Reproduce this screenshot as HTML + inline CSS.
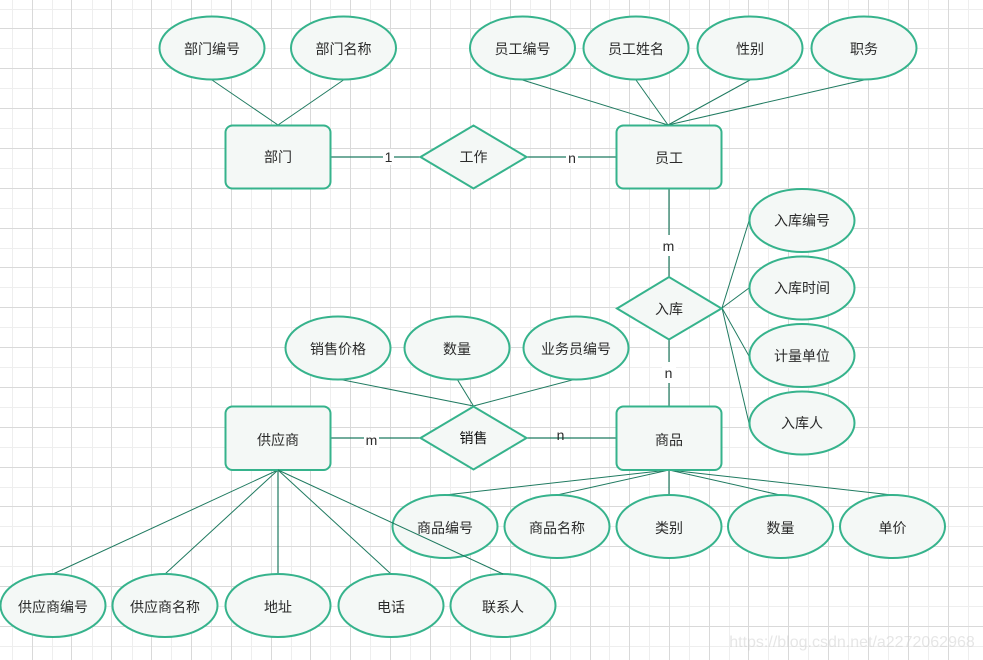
<!DOCTYPE html>
<html><head><meta charset="utf-8"><style>
html,body{margin:0;padding:0;background:#fff;width:983px;height:660px;overflow:hidden}
svg{display:block}
text{font-family:"Liberation Sans","Noto Sans CJK SC",sans-serif;font-size:14px;fill:#2b2b2b;text-anchor:middle}
.s ellipse,.s rect,.s polygon{fill:#f4f8f6;stroke:#36b38c;stroke-width:2}
.l line{stroke:#1f7a60;stroke-width:1}
.h line{stroke:#1f7a60;stroke-width:1.2}
</style></head><body>
<svg width="983" height="660" viewBox="0 0 983 660" xmlns="http://www.w3.org/2000/svg">
<rect width="983" height="660" fill="#fff"/>
<path fill="none" stroke="#eeeeee" stroke-width="1" shape-rendering="crispEdges" d="M12.5 0V660M52.5 0V660M92.5 0V660M132.5 0V660M171.5 0V660M211.5 0V660M251.5 0V660M291.5 0V660M330.5 0V660M370.500 0V660M410.5 0V660M450.5 0V660M490.5 0V660M530.5 0V660M570.5 0V660M609.5 0V660M649.5 0V660M689.5 0V660M729.5 0V660M768.5 0V660M808.5 0V660M848.5 0V660M888.5 0V660M928.5 0V660M968.5 0V660M0 9.5H983M0 48.5H983M0 88.5H983M0 128.5H983M0 168.5H983M0 208.5H983M0 248.5H983M0 287.5H983M0 327.5H983M0 367.5H983M0 407.5H983M0 447.5H983M0 487.5H983M0 526.5H983M0 566.5H983M0 606.5H983M0 646.5H983"/>
<path fill="none" stroke="#d9d9d9" stroke-width="1" shape-rendering="crispEdges" d="M32.5 0V660M71.5 0V660M111.5 0V660M151.5 0V660M191.5 0V660M231.5 0V660M271.5 0V660M310.5 0V660M350.5 0V660M390.5 0V660M430.5 0V660M470.5 0V660M510.5 0V660M550.5 0V660M590.5 0V660M629.5 0V660M669.5 0V660M709.5 0V660M748.5 0V660M788.5 0V660M828.5 0V660M868.5 0V660M908.5 0V660M948.5 0V660M0 28.5H983M0 68.5H983M0 108.5H983M0 148.5H983M0 188.5H983M0 228.5H983M0 267.5H983M0 307.5H983M0 347.5H983M0 387.5H983M0 427.5H983M0 467.5H983M0 506.5H983M0 546.5H983M0 586.5H983M0 626.5H983"/>

<g class="l">
<line x1="212" y1="80" x2="278" y2="125"/>
<line x1="343.500" y1="80" x2="278" y2="125"/>
<line x1="522.500" y1="80" x2="668" y2="125"/>
<line x1="636" y1="80" x2="668" y2="125"/>
<line x1="750" y1="80" x2="668" y2="125"/>
<line x1="864" y1="80" x2="668" y2="125"/>
<line x1="722" y1="308" x2="749" y2="221"/>
<line x1="722" y1="308" x2="749" y2="288"/>
<line x1="722" y1="308" x2="749" y2="356"/>
<line x1="722" y1="308" x2="749" y2="423"/>
<line x1="338" y1="379" x2="473.500" y2="406"/>
<line x1="457" y1="379" x2="473.500" y2="406"/>
<line x1="576" y1="379" x2="473.500" y2="406"/>
<line x1="669" y1="470" x2="445" y2="495"/>
<line x1="669" y1="470" x2="557" y2="495"/>
<line x1="669" y1="470" x2="780" y2="495"/>
<line x1="669" y1="470" x2="892" y2="495"/>
<line x1="278" y1="470" x2="53" y2="574"/>
<line x1="278" y1="470" x2="165" y2="574"/>
<line x1="278" y1="470" x2="391" y2="574"/>
</g>
<g class="h">
<line x1="331" y1="157" x2="420" y2="157"/>
<line x1="527" y1="157" x2="616" y2="157"/>
<line x1="669" y1="189" x2="669" y2="277"/>
<line x1="669" y1="340" x2="669" y2="406"/>
<line x1="331" y1="438" x2="420" y2="438"/>
<line x1="527" y1="438" x2="616" y2="438"/>
<line x1="669" y1="470" x2="669" y2="495"/>
<line x1="278" y1="470" x2="278" y2="574"/>
</g>

<g fill="#fff">
<rect x="383" y="149" width="11" height="16"/>
<rect x="566" y="150" width="12" height="16"/>
<rect x="660" y="235" width="18" height="21"/>
<rect x="662" y="362" width="14" height="21"/>
<rect x="364" y="432" width="15" height="16"/>
<rect x="555" y="428" width="11" height="9"/>
</g>

<g class="s">
<ellipse cx="212" cy="48" rx="52.500" ry="31.500"/>
<ellipse cx="343.500" cy="48" rx="52.500" ry="31.500"/>
<ellipse cx="522.500" cy="48" rx="52.500" ry="31.500"/>
<ellipse cx="636" cy="48" rx="52.500" ry="31.500"/>
<ellipse cx="750" cy="48" rx="52.500" ry="31.500"/>
<ellipse cx="864" cy="48" rx="52.500" ry="31.500"/>
<rect x="225.500" y="125.500" width="105" height="63" rx="7"/>
<rect x="616.500" y="125.500" width="105" height="63" rx="7"/>
<polygon points="420.500,157 473.500,125.500 526.500,157 473.500,188.500"/>
<polygon points="617,308.500 669,277 721.500,308.500 669,339.500"/>
<ellipse cx="802" cy="220.500" rx="52.500" ry="31.500"/>
<ellipse cx="802" cy="288" rx="52.500" ry="31.500"/>
<ellipse cx="802" cy="355.500" rx="52.500" ry="31.500"/>
<ellipse cx="802" cy="423" rx="52.500" ry="31.500"/>
<ellipse cx="338" cy="348" rx="52.500" ry="31.500"/>
<ellipse cx="457" cy="348" rx="52.500" ry="31.500"/>
<ellipse cx="576" cy="348" rx="52.500" ry="31.500"/>
<rect x="225.500" y="406.500" width="105" height="63.500" rx="7"/>
<rect x="616.500" y="406.500" width="105" height="63.500" rx="7"/>
<polygon points="420.500,438 473.500,406.500 526.500,438 473.500,469.500"/>
<ellipse cx="445" cy="526.500" rx="52.500" ry="31.500"/>
<ellipse cx="557" cy="526.500" rx="52.500" ry="31.500"/>
<ellipse cx="669" cy="526.500" rx="52.500" ry="31.500"/>
<ellipse cx="780.500" cy="526.500" rx="52.500" ry="31.500"/>
<ellipse cx="892.500" cy="526.500" rx="52.500" ry="31.500"/>
<ellipse cx="53" cy="605.500" rx="52.500" ry="31.500"/>
<ellipse cx="165" cy="605.500" rx="52.500" ry="31.500"/>
<ellipse cx="278" cy="605.500" rx="52.500" ry="31.500"/>
<ellipse cx="391" cy="605.500" rx="52.500" ry="31.500"/>
<ellipse cx="503" cy="605.500" rx="52.500" ry="31.500"/>
</g>
<line x1="278" y1="470" x2="503" y2="574" stroke="#1f7a60" stroke-width="1"/>

<g>
<text x="212" y="54">部门编号</text>
<text x="343.500" y="54">部门名称</text>
<text x="522.500" y="54">员工编号</text>
<text x="636" y="54">员工姓名</text>
<text x="750" y="54">性别</text>
<text x="864" y="54">职务</text>
<text x="278" y="162">部门</text>
<text x="473.500" y="162">工作</text>
<text x="669" y="163">员工</text>
<text x="802" y="225.500">入库编号</text>
<text x="802" y="293">入库时间</text>
<text x="802" y="361">计量单位</text>
<text x="802" y="428">入库人</text>
<text x="669" y="314">入库</text>
<text x="338" y="354">销售价格</text>
<text x="457" y="354">数量</text>
<text x="576" y="354">业务员编号</text>
<text x="278" y="445">供应商</text>
<text x="473.500" y="443" style="fill:#111">销售</text>
<text x="669" y="445">商品</text>
<text x="445" y="533">商品编号</text>
<text x="557" y="533">商品名称</text>
<text x="669" y="533">类别</text>
<text x="780.500" y="533">数量</text>
<text x="892.500" y="533">单价</text>
<text x="53" y="612">供应商编号</text>
<text x="165" y="612">供应商名称</text>
<text x="278" y="612">地址</text>
<text x="391" y="612">电话</text>
<text x="503" y="612">联系人</text>
<text x="388.500" y="162">1</text>
<text x="572" y="163">n</text>
<text x="668.500" y="251">m</text>
<text x="668.500" y="378">n</text>
<text x="371.500" y="445">m</text>
<text x="560.500" y="440">n</text>
</g>
<text x="852" y="647" style="font-size:16px;fill:#c8c8c8;opacity:.45">https://blog.csdn.net/a2272062968</text>
</svg>
</body></html>
